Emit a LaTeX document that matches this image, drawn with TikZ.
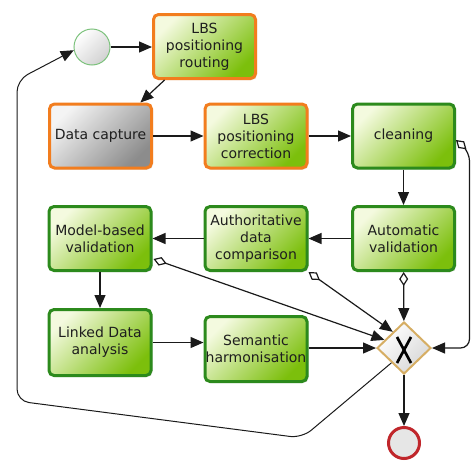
\documentclass[tikz,border=0pt]{standalone}
\usepackage{fontspec}
\setmainfont{DejaVu Sans}
\usetikzlibrary{arrows.meta,calc,shadows,shapes.geometric}
\definecolor{gL}{HTML}{F4FADF}
\definecolor{gM}{HTML}{C6E47A}
\definecolor{gD}{HTML}{7CBF0C}
\definecolor{gB}{HTML}{2C8A1C}
\definecolor{oB}{HTML}{F27D1E}
\definecolor{grL}{HTML}{F4F4F4}
\definecolor{grM}{HTML}{CDCDCD}
\definecolor{grD}{HTML}{8C8C8C}
\definecolor{txt}{HTML}{1E1E1E}
\definecolor{lineC}{HTML}{1A1A1A}
\definecolor{gwB}{HTML}{D6AE64}
\definecolor{gwF}{HTML}{E6E6E6}
\definecolor{stB}{HTML}{7CC27C}
\definecolor{enB}{HTML}{C0262B}
\begin{document}
\begin{tikzpicture}[x=1pt,y=-1pt,
  task/.style={rectangle, rounded corners=5pt, line width=3pt,
    minimum width=102pt, minimum height=64pt, inner sep=0pt, align=center,
    font=\fontsize{14}{17}\selectfont, text=txt,
    drop shadow={shadow xshift=1.5pt, shadow yshift=-1.5pt, opacity=0.25}},
  greentask/.style={task, draw=gB, top color=gL, middle color=gM, bottom color=gD, shading angle=45},
  orangetask/.style={greentask, draw=oB},
  graytask/.style={task, draw=oB, top color=grL, middle color=grM, bottom color=grD, shading angle=45},
  flow/.style={line width=1.2pt, draw=lineC, -{Triangle[length=13pt,width=11pt]}},
  cond/.style={line width=1.2pt, draw=lineC, {Diamond[fill=white,length=14pt,width=9pt]}-{Triangle[length=13pt,width=11pt]}}
]
\useasboundingbox (0,0) rectangle (471,461);

\node[circle, draw=stB, line width=1pt, top color=white, bottom color=gwF!80!gray, shading angle=45, minimum size=36pt, inner sep=0pt] (start) at (92,47) {};
\node[orangetask] (routing) at (204.5,46.5) {LBS\\positioning\\routing};
\node[graytask] (capture) at (100.5,136) {Data capture};
\node[orangetask] (correction) at (256,136) {LBS\\positioning\\correction};
\node[greentask] (cleaning) at (403.5,136) {cleaning};
\node[greentask] (auto) at (403.5,238.5) {Automatic\\validation};
\node[greentask] (auth) at (256,238.5) {Authoritative\\data\\comparison};
\node[greentask] (model) at (100,238.5) {Model-based\\validation};
\node[greentask, minimum height=66pt] (linked) at (100,342.5) {Linked Data\\analysis};
\node[greentask, minimum height=65pt] (semantic) at (256,349) {Semantic\\harmonisation};
\node[diamond, aspect=1, draw=gwB, line width=2pt, top color=white, bottom color=gwF!85!gray, shading angle=45, minimum width=54pt, minimum height=52pt, inner sep=0pt] (gw) at (404,348) {};
\node[circle, draw=enB, line width=3pt, fill=gwF, minimum size=31pt, inner sep=0pt] (end) at (404,443) {};

\draw[line width=2.7pt, draw=black] ($(gw)+(-7,-11)$) -- ($(gw)+(7,15)$);
\draw[line width=2.7pt, draw=black] ($(gw)+(7,-11)$) -- ($(gw)+(-7,15)$);

\coordinate (fb1) at (302,438);
\coordinate (fb2) at (17,401);
\coordinate (fb3) at (17,80);
\coordinate (rc1) at (469.5,152);
\coordinate (rc2) at (469.5,348);

\draw[flow] (start.east) -- (start.east -| routing.west);
\draw[flow] ($(routing.south west)!0.12!(routing.south east)$) -- ($(capture.north west)!0.88!(capture.north east)$);
\draw[flow] (capture) -- (correction);
\draw[flow] (correction) -- (cleaning);
\draw[flow] (cleaning) -- (auto);
\draw[flow] (auto) -- (auth);
\draw[flow] (auth) -- (model);
\draw[flow] (model) -- (linked);
\draw[flow] (linked.east) -- (linked.east -| semantic.west);
\draw[flow] (semantic.east |- gw) -- (gw.west);
\draw[flow] (gw) -- (end);
\draw[cond] (auto) -- (gw);
\draw[cond] (auth.south east) -- ($(gw.west)!0.6!(gw.north)$);
\draw[cond] ($(model.south east)+(1,-13)$) -- ($(gw.west)!0.3!(gw.north)$);
\draw[cond, rounded corners=9pt] ($(cleaning.east)+(0,4)$) -- (rc1) -- (rc2) -- (gw.east);
\draw[flow, line width=1pt, rounded corners=12pt] ($(gw.west)!0.55!(gw.south)$) -- (fb1) -- (fb2) -- (fb3) -- (start.190);
\end{tikzpicture}
\end{document}
